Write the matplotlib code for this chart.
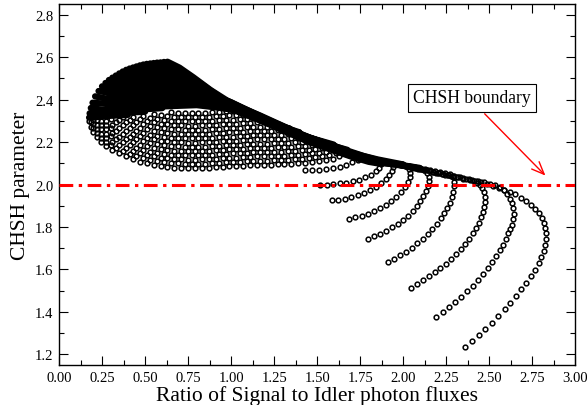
import matplotlib
matplotlib.use("Agg")
import matplotlib.pyplot as plt
from matplotlib.ticker import MultipleLocator, FormatStrFormatter

plt.rcParams["font.family"] = ["Liberation Serif", "DejaVu Serif"]

# ---- outer curves of the fan: open circles ----
# c1 starts on the CHSH line, c8 is the outermost (lowest start)
c1_x = [1.517, 1.555, 1.593, 1.631, 1.669, 1.707, 1.744, 1.779, 1.811, 1.839, 1.860, 1.872]
c1_y = [1.999, 2.000, 2.002, 2.005, 2.009, 2.015, 2.023, 2.034, 2.047, 2.062, 2.079, 2.097]

c2_x = [1.585, 1.623, 1.661, 1.699, 1.736, 1.772, 1.807, 1.840, 1.870, 1.897, 1.919, 1.935, 1.940, 1.932]
c2_y = [1.925, 1.929, 1.934, 1.941, 1.950, 1.961, 1.974, 1.989, 2.006, 2.025, 2.045, 2.063, 2.082, 2.098]

c3_x = [1.682, 1.720, 1.758, 1.795, 1.831, 1.866, 1.899, 1.930, 1.959, 1.985, 2.008, 2.025, 2.037,
        2.040, 2.033, 2.015, 1.990]
c3_y = [1.838, 1.845, 1.853, 1.863, 1.875, 1.889, 1.905, 1.923, 1.943, 1.965, 1.988, 2.011, 2.034,
        2.055, 2.073, 2.087, 2.095]

c4_x = [1.793, 1.829, 1.865, 1.900, 1.934, 1.967, 1.998, 2.027, 2.054, 2.078, 2.099, 2.117, 2.132,
        2.143, 2.149, 2.148, 2.138, 2.120, 2.097, 2.072]
c4_y = [1.744, 1.756, 1.769, 1.783, 1.798, 1.815, 1.834, 1.854, 1.875, 1.897, 1.920, 1.944, 1.968,
        1.992, 2.015, 2.036, 2.053, 2.066, 2.074, 2.080]

c5_x = [1.911, 1.948, 1.983, 2.017, 2.050, 2.081, 2.112, 2.141, 2.169, 2.194, 2.217, 2.238, 2.256,
        2.271, 2.283, 2.291, 2.295, 2.295, 2.289, 2.270, 2.245, 2.215, 2.185, 2.155, 2.125, 2.095]
c5_y = [1.633, 1.649, 1.666, 1.684, 1.703, 1.723, 1.745, 1.767, 1.790, 1.814, 1.840, 1.865, 1.890,
        1.915, 1.940, 1.966, 1.991, 2.014, 2.035, 2.048, 2.055, 2.060, 2.065, 2.070, 2.074, 2.078]

c6_x = [2.045, 2.080, 2.114, 2.149, 2.182, 2.215, 2.246, 2.277, 2.306, 2.333, 2.359, 2.382, 2.403,
        2.422, 2.438, 2.451, 2.461, 2.469, 2.473, 2.473, 2.469, 2.459, 2.446, 2.428, 2.409, 2.380,
        2.350, 2.320, 2.290, 2.260, 2.230, 2.200, 2.170, 2.140, 2.110, 2.080, 2.050]
c6_y = [1.513, 1.532, 1.549, 1.568, 1.587, 1.607, 1.627, 1.649, 1.673, 1.696, 1.720, 1.745, 1.770,
        1.796, 1.821, 1.846, 1.869, 1.894, 1.918, 1.941, 1.963, 1.983, 1.998, 2.009, 2.017, 2.025,
        2.031, 2.036, 2.041, 2.046, 2.051, 2.056, 2.061, 2.066, 2.071, 2.076, 2.081]

c7_x = [2.192, 2.231, 2.267, 2.302, 2.337, 2.372, 2.405, 2.436, 2.465, 2.492, 2.517, 2.541, 2.560,
        2.579, 2.597, 2.610, 2.622, 2.632, 2.640, 2.642, 2.638, 2.630, 2.618, 2.603, 2.584, 2.560,
        2.535, 2.505, 2.470, 2.435, 2.400, 2.365, 2.330, 2.295, 2.260, 2.225, 2.190, 2.155, 2.120,
        2.085, 2.050, 2.015]
c7_y = [1.377, 1.401, 1.423, 1.448, 1.472, 1.498, 1.523, 1.550, 1.577, 1.605, 1.634, 1.662, 1.690,
        1.717, 1.744, 1.770, 1.790, 1.810, 1.836, 1.862, 1.887, 1.912, 1.934, 1.955, 1.972, 1.988,
        2.000, 2.003, 2.010, 2.016, 2.022, 2.027, 2.033, 2.038, 2.044, 2.050, 2.056, 2.062, 2.068,
        2.074, 2.080, 2.086]

c8_x = [2.357, 2.399, 2.440, 2.477, 2.516, 2.552, 2.589, 2.622, 2.655, 2.686, 2.715, 2.742, 2.765,
        2.787, 2.802, 2.816, 2.824, 2.829, 2.829, 2.826, 2.816, 2.804, 2.787, 2.767, 2.742, 2.715,
        2.684, 2.649, 2.618, 2.587, 2.554, 2.519, 2.486, 2.453, 2.420, 2.385, 2.350, 2.315, 2.280,
        2.245, 2.210, 2.175, 2.140, 2.105, 2.070, 2.035, 2.000]
c8_y = [1.236, 1.264, 1.292, 1.321, 1.350, 1.382, 1.413, 1.443, 1.475, 1.506, 1.538, 1.567, 1.599,
        1.631, 1.660, 1.689, 1.717, 1.744, 1.770, 1.796, 1.821, 1.843, 1.865, 1.884, 1.903, 1.921,
        1.937, 1.953, 1.965, 1.975, 1.984, 1.995, 2.003, 2.010, 2.016, 2.022, 2.028, 2.034, 2.041,
        2.047, 2.053, 2.060, 2.066, 2.073, 2.080, 2.087, 2.094]

# short curve just above c1
j1_x = [1.430, 1.470, 1.510, 1.550, 1.590, 1.630, 1.670, 1.705, 1.735, 1.755]
j1_y = [2.066, 2.067, 2.069, 2.072, 2.077, 2.084, 2.093, 2.104, 2.117, 2.132]

# where the curves run back up-left the circles pile into a solid black band;
# these are their return paths through that band
c1_band_x = [1.872, 1.80, 1.70, 1.45, 1.20, 0.95, 0.75, 0.49]
c1_band_y = [2.097, 2.107, 2.131, 2.201, 2.291, 2.373, 2.469, 2.565]
c2_band_x = [1.932, 1.80, 1.70, 1.45, 1.20, 0.95, 0.75, 0.51]
c2_band_y = [2.098, 2.112, 2.134, 2.204, 2.294, 2.378, 2.477, 2.568]
c3_band_x = [1.990, 1.85, 1.70, 1.45, 1.20, 0.95, 0.75, 0.53]
c3_band_y = [2.095, 2.103, 2.137, 2.207, 2.297, 2.383, 2.485, 2.570]
c4_band_x = [2.072, 1.85, 1.70, 1.45, 1.20, 0.95, 0.75, 0.55]
c4_band_y = [2.080, 2.106, 2.140, 2.210, 2.300, 2.388, 2.493, 2.572]
c5_band_x = [2.095, 1.85, 1.70, 1.45, 1.20, 0.95, 0.75, 0.57]
c5_band_y = [2.078, 2.109, 2.143, 2.213, 2.303, 2.393, 2.501, 2.574]
c6_band_x = [2.050, 1.85, 1.70, 1.45, 1.20, 0.95, 0.75, 0.59]
c6_band_y = [2.081, 2.112, 2.146, 2.216, 2.306, 2.398, 2.509, 2.575]
c7_band_x = [2.015, 1.85, 1.70, 1.45, 1.20, 0.95, 0.75, 0.61]
c7_band_y = [2.086, 2.115, 2.149, 2.219, 2.309, 2.403, 2.517, 2.577]
c8_band_x = [2.000, 1.85, 1.77, 1.68, 1.58, 1.46, 1.36, 1.27, 1.17, 1.07, 0.975, 0.88, 0.78,
             0.70, 0.63]
c8_band_y = [2.094, 2.118, 2.134, 2.158, 2.187, 2.219, 2.254, 2.287, 2.324, 2.358, 2.396, 2.445,
             2.505, 2.550, 2.578]
j1_band_x = [1.755, 1.60, 1.40, 1.20, 1.00, 0.80, 0.60, 0.47]
j1_band_y = [2.132, 2.178, 2.238, 2.310, 2.387, 2.448, 2.522, 2.561]

# ---- rows of circles in the lower, open-textured part of the blob (bottom row first) ----
row_x = [
    [0.175, 0.185, 0.200, 0.220, 0.245, 0.275, 0.31, 0.35, 0.39, 0.43, 0.47, 0.51, 0.55, 0.59,
     0.63, 0.67, 0.71, 0.75, 0.79, 0.83, 0.87, 0.91, 0.95, 0.99, 1.03, 1.07, 1.11, 1.15, 1.19,
     1.23, 1.27, 1.31, 1.35, 1.39, 1.43, 1.47, 1.51, 1.55, 1.59, 1.625, 1.655, 1.675],
    [0.185, 0.200, 0.220, 0.245, 0.275, 0.300, 0.33, 0.37, 0.41, 0.45, 0.49, 0.53, 0.57, 0.61,
     0.65, 0.69, 0.73, 0.77, 0.81, 0.85, 0.89, 0.93, 0.97, 1.01, 1.05, 1.09, 1.13, 1.17, 1.21,
     1.25, 1.29, 1.33, 1.37, 1.41, 1.45, 1.49, 1.53, 1.57, 1.61, 1.64],
    [0.200, 0.220, 0.245, 0.275, 0.31, 0.35, 0.39, 0.43, 0.47, 0.51, 0.55, 0.59, 0.63, 0.67,
     0.71, 0.75, 0.79, 0.83, 0.87, 0.91, 0.95, 0.99, 1.03, 1.07, 1.11, 1.15, 1.19, 1.23, 1.27,
     1.31, 1.35, 1.39, 1.43, 1.47, 1.51, 1.55, 1.59, 1.615],
    [0.200, 0.220, 0.245, 0.275, 0.300, 0.33, 0.37, 0.41, 0.45, 0.49, 0.53, 0.57, 0.61, 0.65,
     0.69, 0.73, 0.77, 0.81, 0.85, 0.89, 0.93, 0.97, 1.01, 1.05, 1.09, 1.13, 1.17, 1.21, 1.25,
     1.29, 1.33, 1.37, 1.41, 1.45, 1.49, 1.53, 1.57, 1.595],
    [0.220, 0.245, 0.275, 0.31, 0.35, 0.39, 0.43, 0.47, 0.51, 0.55, 0.59, 0.63, 0.67, 0.71, 0.75,
     0.79, 0.83, 0.87, 0.91, 0.95, 0.99, 1.03, 1.07, 1.11, 1.15, 1.19, 1.23, 1.27, 1.31, 1.35,
     1.39, 1.43, 1.47, 1.51, 1.54],
    [0.245, 0.275, 0.300, 0.33, 0.37, 0.41, 0.45, 0.49, 0.53, 0.57, 0.61, 0.65, 0.69, 0.73, 0.77,
     0.81, 0.85, 0.89, 0.93, 0.97, 1.01, 1.05, 1.09, 1.13, 1.17, 1.21, 1.25, 1.29, 1.33, 1.37,
     1.41, 1.45, 1.48],
    [0.275, 0.31, 0.35, 0.39, 0.43, 0.47, 0.51, 0.55, 0.59, 0.63, 0.67, 0.71, 0.75, 0.79, 0.83,
     0.87, 0.91, 0.95, 0.99, 1.03, 1.07, 1.11, 1.15, 1.19, 1.23, 1.27, 1.31, 1.35, 1.39, 1.42],
    [0.300, 0.33, 0.37, 0.41, 0.45, 0.49, 0.53, 0.57, 0.61, 0.65, 0.69, 0.73, 0.77, 0.81, 0.85,
     0.89, 0.93, 0.97, 1.01, 1.05, 1.09, 1.13, 1.17, 1.21, 1.25, 1.29, 1.33, 1.37, 1.395],
    [0.35, 0.39, 0.43, 0.47, 0.51, 0.55, 0.59, 0.63, 0.67, 0.71, 0.75, 0.79, 0.83, 0.87, 0.91,
     0.95, 0.99, 1.03, 1.07, 1.11, 1.15, 1.19, 1.23, 1.27, 1.31, 1.335],
    [0.37, 0.41, 0.45, 0.49, 0.53, 0.57, 0.61, 0.65, 0.69, 0.73, 0.77, 0.81, 0.85, 0.89, 0.93,
     0.97, 1.01, 1.05, 1.09, 1.13, 1.17, 1.21, 1.25, 1.275],
    [0.43, 0.47, 0.51, 0.55, 0.59, 0.63, 0.67, 0.71, 0.75, 0.79, 0.83, 0.87, 0.91, 0.95, 0.99,
     1.03, 1.07, 1.11, 1.15, 1.19, 1.215],
    [0.49, 0.53, 0.57, 0.61, 0.65, 0.69, 0.73, 0.77, 0.81, 0.85, 0.89, 0.93, 0.97, 1.01, 1.05,
     1.09, 1.13, 1.155],
    [0.55, 0.59, 0.63, 0.67, 0.71, 0.75, 0.79, 0.83, 0.87, 0.91, 0.95, 0.99, 1.03, 1.07, 1.095],
    [0.65, 0.69, 0.73, 0.77, 0.81, 0.85, 0.89, 0.93, 0.97, 1.01, 1.035],
]
row_y = [
    [2.300, 2.272, 2.245, 2.222, 2.200, 2.180, 2.162, 2.146, 2.132, 2.119, 2.108, 2.099, 2.092,
     2.087, 2.083, 2.080, 2.078, 2.077, 2.077, 2.078, 2.079, 2.081, 2.083, 2.085, 2.087, 2.089,
     2.091, 2.092, 2.093, 2.094, 2.095, 2.096, 2.098, 2.100, 2.103, 2.106, 2.110, 2.115, 2.122,
     2.132, 2.146, 2.163],
    [2.292, 2.265, 2.242, 2.220, 2.200, 2.187, 2.174, 2.159, 2.145, 2.133, 2.123, 2.115, 2.109,
     2.105, 2.101, 2.099, 2.097, 2.097, 2.097, 2.098, 2.100, 2.102, 2.104, 2.106, 2.108, 2.110,
     2.111, 2.112, 2.113, 2.114, 2.115, 2.117, 2.119, 2.121, 2.124, 2.128, 2.132, 2.138, 2.146,
     2.158],
    [2.285, 2.262, 2.240, 2.220, 2.202, 2.186, 2.172, 2.159, 2.148, 2.139, 2.132, 2.127, 2.123,
     2.120, 2.118, 2.117, 2.117, 2.118, 2.119, 2.121, 2.123, 2.125, 2.127, 2.129, 2.131, 2.132,
     2.133, 2.134, 2.135, 2.136, 2.138, 2.140, 2.143, 2.146, 2.150, 2.155, 2.162, 2.172],
    [2.305, 2.282, 2.260, 2.240, 2.227, 2.214, 2.199, 2.185, 2.173, 2.163, 2.155, 2.149, 2.145,
     2.141, 2.139, 2.137, 2.137, 2.137, 2.138, 2.140, 2.142, 2.144, 2.146, 2.148, 2.150, 2.151,
     2.152, 2.153, 2.154, 2.155, 2.157, 2.159, 2.161, 2.164, 2.168, 2.172, 2.178, 2.188],
    [2.302, 2.280, 2.260, 2.242, 2.226, 2.212, 2.199, 2.188, 2.179, 2.172, 2.167, 2.163, 2.160,
     2.158, 2.157, 2.157, 2.158, 2.159, 2.161, 2.163, 2.165, 2.167, 2.169, 2.171, 2.172, 2.173,
     2.174, 2.175, 2.176, 2.178, 2.180, 2.183, 2.186, 2.190, 2.198],
    [2.300, 2.280, 2.267, 2.254, 2.239, 2.225, 2.213, 2.203, 2.195, 2.189, 2.185, 2.181, 2.179,
     2.177, 2.177, 2.177, 2.178, 2.180, 2.182, 2.184, 2.186, 2.188, 2.190, 2.191, 2.192, 2.193,
     2.194, 2.195, 2.197, 2.199, 2.201, 2.204, 2.213],
    [2.300, 2.282, 2.266, 2.252, 2.239, 2.228, 2.219, 2.212, 2.207, 2.203, 2.200, 2.198, 2.197,
     2.197, 2.198, 2.199, 2.201, 2.203, 2.205, 2.207, 2.209, 2.211, 2.212, 2.213, 2.214, 2.215,
     2.216, 2.218, 2.220, 2.230],
    [2.307, 2.294, 2.279, 2.265, 2.253, 2.243, 2.235, 2.229, 2.225, 2.221, 2.219, 2.217, 2.217,
     2.217, 2.218, 2.220, 2.222, 2.224, 2.226, 2.228, 2.230, 2.231, 2.232, 2.233, 2.234, 2.235,
     2.237, 2.239, 2.246],
    [2.306, 2.292, 2.279, 2.268, 2.259, 2.252, 2.247, 2.243, 2.240, 2.238, 2.237, 2.237, 2.238,
     2.239, 2.241, 2.243, 2.245, 2.247, 2.249, 2.251, 2.252, 2.253, 2.254, 2.255, 2.256, 2.264],
    [2.319, 2.305, 2.293, 2.283, 2.275, 2.269, 2.265, 2.261, 2.259, 2.257, 2.257, 2.257, 2.258,
     2.260, 2.262, 2.264, 2.266, 2.268, 2.270, 2.271, 2.272, 2.273, 2.274, 2.283],
    [2.319, 2.308, 2.299, 2.292, 2.287, 2.283, 2.280, 2.278, 2.277, 2.277, 2.278, 2.279, 2.281,
     2.283, 2.285, 2.287, 2.289, 2.291, 2.292, 2.293, 2.300],
    [2.323, 2.315, 2.309, 2.305, 2.301, 2.299, 2.297, 2.297, 2.297, 2.298, 2.300, 2.302, 2.304,
     2.306, 2.308, 2.310, 2.311, 2.318],
    [2.332, 2.327, 2.323, 2.320, 2.318, 2.317, 2.317, 2.318, 2.319, 2.321, 2.323, 2.325, 2.327,
     2.329, 2.336],
    [2.341, 2.339, 2.337, 2.337, 2.337, 2.338, 2.340, 2.342, 2.344, 2.346, 2.352],
]
row_band_x = [
    [1.675, 1.60, 1.40, 1.20, 1.00, 0.80, 0.60, 0.45],
    [1.640, 1.40, 1.20, 1.00, 0.80, 0.60, 0.45, 0.43],
    [1.615, 1.40, 1.20, 1.00, 0.80, 0.60, 0.45, 0.41],
    [1.595, 1.40, 1.20, 1.00, 0.80, 0.60, 0.45, 0.39],
    [1.540, 1.40, 1.20, 1.00, 0.80, 0.60, 0.45, 0.37],
    [1.480, 1.40, 1.20, 1.00, 0.80, 0.60, 0.45, 0.35],
    [1.420, 1.20, 1.00, 0.80, 0.60, 0.45, 0.35, 0.33],
    [1.395, 1.20, 1.00, 0.80, 0.60, 0.45, 0.35, 0.31],
    [1.335, 1.20, 1.00, 0.80, 0.60, 0.45, 0.35, 0.29],
    [1.275, 1.20, 1.00, 0.80, 0.60, 0.45, 0.35, 0.27],
    [1.215, 1.00, 0.80, 0.60, 0.45, 0.35, 0.25],
    [1.155, 1.00, 0.80, 0.60, 0.45, 0.35, 0.27, 0.23],
    [1.095, 1.00, 0.80, 0.60, 0.45, 0.35, 0.27, 0.21],
    [1.035, 0.80, 0.60, 0.45, 0.35, 0.27, 0.195],
]
row_band_y = [
    [2.163, 2.180, 2.236, 2.305, 2.375, 2.444, 2.505, 2.556],
    [2.158, 2.235, 2.304, 2.373, 2.438, 2.490, 2.535, 2.551],
    [2.172, 2.234, 2.303, 2.371, 2.433, 2.478, 2.520, 2.546],
    [2.188, 2.233, 2.302, 2.369, 2.428, 2.466, 2.505, 2.540],
    [2.198, 2.232, 2.301, 2.367, 2.422, 2.455, 2.490, 2.532],
    [2.213, 2.231, 2.300, 2.365, 2.417, 2.444, 2.475, 2.523],
    [2.230, 2.299, 2.363, 2.411, 2.433, 2.460, 2.505, 2.513],
    [2.246, 2.298, 2.361, 2.406, 2.424, 2.445, 2.490, 2.503],
    [2.264, 2.297, 2.359, 2.400, 2.415, 2.430, 2.470, 2.492],
    [2.283, 2.296, 2.357, 2.395, 2.405, 2.415, 2.450, 2.478],
    [2.300, 2.356, 2.390, 2.396, 2.400, 2.430, 2.462],
    [2.318, 2.355, 2.384, 2.387, 2.385, 2.410, 2.435, 2.440],
    [2.336, 2.354, 2.379, 2.377, 2.370, 2.390, 2.405, 2.415],
    [2.352, 2.374, 2.368, 2.360, 2.370, 2.380, 2.385],
]

# innermost curves, entirely inside the solid left part of the blob
core_band_x = [
    [0.60, 0.45, 0.33, 0.25, 0.185],
    [0.50, 0.38, 0.28, 0.178],
    [0.40, 0.30, 0.22, 0.175],
]
core_band_y = [
    [2.360, 2.352, 2.350, 2.352, 2.360],
    [2.343, 2.338, 2.335, 2.335],
    [2.328, 2.324, 2.318, 2.315],
]

chsh_limit = 2.0
label_text = "CHSH boundary"
label_pos = (2.40, 2.408)
arrow_tail = (2.473, 2.333)
arrow_head = (2.826, 2.042)

dots_x = [c1_x, c2_x, c3_x, c4_x, c5_x, c6_x, c7_x, c8_x, j1_x] + row_x
dots_y = [c1_y, c2_y, c3_y, c4_y, c5_y, c6_y, c7_y, c8_y, j1_y] + row_y
band_x = [c1_band_x, c2_band_x, c3_band_x, c4_band_x, c5_band_x, c6_band_x, c7_band_x,
          c8_band_x, j1_band_x] + row_band_x + core_band_x
band_y = [c1_band_y, c2_band_y, c3_band_y, c4_band_y, c5_band_y, c6_band_y, c7_band_y,
          c8_band_y, j1_band_y] + row_band_y + core_band_y

fig = plt.figure(figsize=(5.87, 4.06), dpi=100)
ax = fig.add_axes([0.1005, 0.0985, 0.8797, 0.8892])

for bx, by in zip(band_x, band_y):
    ax.plot(bx, by, color="black", lw=4.6, solid_capstyle="round", solid_joinstyle="round")
for dx, dy in zip(dots_x, dots_y):
    ax.plot(dx, dy, ls="none", marker="o", ms=3.4, mfc="none", mec="black", mew=1.1)

ax.axhline(chsh_limit, color="red", lw=2.2, ls=(0, (4.5, 1.8, 1.1, 1.8)), zorder=3)

ax.text(*label_pos, label_text, fontsize=12.7, ha="center", va="center",
        bbox=dict(boxstyle="square,pad=0.3", fc="white", ec="black", lw=0.8))
ax.annotate("", xy=arrow_head, xytext=arrow_tail,
            arrowprops=dict(arrowstyle="->,head_length=0.6,head_width=0.25",
                            color="red", lw=1.0, mutation_scale=15, shrinkA=0, shrinkB=0))

ax.set_xlim(0, 3)
ax.set_ylim(1.15, 2.85)
ax.xaxis.set_major_locator(MultipleLocator(0.25))
ax.xaxis.set_minor_locator(MultipleLocator(0.125))
ax.yaxis.set_major_locator(MultipleLocator(0.2))
ax.yaxis.set_minor_locator(MultipleLocator(0.1))
ax.xaxis.set_major_formatter(FormatStrFormatter("%.2f"))
ax.yaxis.set_major_formatter(FormatStrFormatter("%.1f"))
ax.tick_params(which="both", direction="in", top=True, right=True, width=0.8, labelsize=10.5)
ax.tick_params(which="major", length=6.5, pad=4)
ax.tick_params(which="minor", length=3.3)
for s in ax.spines.values():
    s.set_linewidth(1.0)

ax.set_xlabel("Ratio of Signal to Idler photon fluxes", fontsize=15.5, labelpad=1)
ax.set_ylabel("CHSH parameter", fontsize=15.5, labelpad=4)

fig.savefig("out.png", dpi=100)
